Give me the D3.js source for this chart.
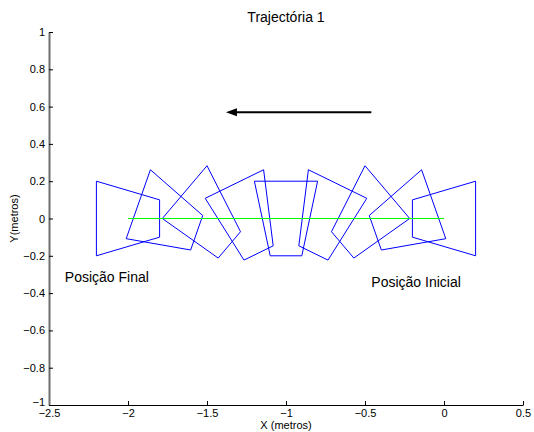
<!DOCTYPE html>
<html lang="en">
<head>
<meta charset="UTF-8">
<title>Trajectória 1</title>
<script src="https://d3js.org/d3.v7.min.js"></script>
<style>
  body { margin: 0; background: #fff; }
  svg { display: block; font-family: "Liberation Sans", Arial, sans-serif; }
  .axis text { font-size: 11px; fill: #000; }
  .axis .tick line { stroke: #000; }
</style>
</head>
<body>
<svg width="534" height="432"></svg>
<script>
// robot poses along the path (centre x, centre y, heading in degrees)
const poseX = [0, -0.25, -0.5, -0.75, -1, -1.25, -1.5, -1.75, -2];
const poseY = [0, 0, 0, 0, 0, 0, 0, 0, 0];
const poseAngle = [0, 22.5, 45, 67.5, 90, 112.5, 135, 157.5, 180];

// robot outline in its own frame (wide end forward)
const robotShape = [[0.2, 0.2], [-0.2, 0.1], [-0.2, -0.1], [0.2, -0.2]];

// reference path and arrow
const pathX = [-2, 0];
const pathY = [0, 0];
const arrowX = [-0.46, -1.38];
const arrowY = [0.57, 0.57];

const xTicks = [-2.5, -2, -1.5, -1, -0.5, 0, 0.5];
const yTicks = [-1, -0.8, -0.6, -0.4, -0.2, 0, 0.2, 0.4, 0.6, 0.8, 1];

const labels = [
  {text: "Posição Final", x: -2.4, y: -0.34},
  {text: "Posição Inicial", x: -0.46, y: -0.365}
];

const svg = d3.select("svg");
const x = d3.scaleLinear().domain([-2.5, 0.5]).range([49, 523]);
const y = d3.scaleLinear().domain([-1, 1]).range([405, 32]);

const fmt = d => d < 0 ? "\u2212" + String(-d) : String(d);

// axes (ticks pointing inward like matlab)
const xAxis = svg.append("g")
  .attr("class", "axis")
  .attr("transform", `translate(0,${y(-1)})`)
  .call(d3.axisBottom(x).tickValues(xTicks).tickFormat(fmt)
    .tickSizeInner(-4).tickSizeOuter(0).tickPadding(4));
xAxis.select(".domain").attr("stroke", "#000");

const yAxis = svg.append("g")
  .attr("class", "axis")
  .attr("transform", `translate(${x(-2.5)},0)`)
  .call(d3.axisLeft(y).tickValues(yTicks).tickFormat(fmt)
    .tickSizeInner(-4).tickSizeOuter(0).tickPadding(4));
yAxis.select(".domain").attr("stroke", "#6e6e6e").attr("stroke-width", 2);
// bottom label sits a little higher so it clears the x labels
yAxis.selectAll(".tick text").filter(d => d === -1).attr("dy", "0.05em");

// robots
const poses = poseX.map((px, i) => ({x: px, y: poseY[i], a: poseAngle[i] * Math.PI / 180}));
svg.append("g").selectAll("polygon")
  .data(poses)
  .join("polygon")
  .attr("points", p => robotShape.map(([u, v]) => {
    const wx = p.x + u * Math.cos(p.a) - v * Math.sin(p.a);
    const wy = p.y + u * Math.sin(p.a) + v * Math.cos(p.a);
    return [x(wx), y(wy)].join(",");
  }).join(" "))
  .attr("fill", "none")
  .attr("stroke", "#0000ff")
  .attr("stroke-width", 1);

// path
svg.append("line")
  .attr("x1", x(pathX[0])).attr("y1", y(pathY[0]))
  .attr("x2", x(pathX[1])).attr("y2", y(pathY[1]))
  .attr("stroke", "#00ff00")
  .attr("stroke-width", 1.2);

// arrow
const ax0 = x(arrowX[0]), ax1 = x(arrowX[1]), ay = y(arrowY[0]);
svg.append("line")
  .attr("x1", ax0).attr("y1", ay)
  .attr("x2", ax1 + 8).attr("y2", ay)
  .attr("stroke", "#000")
  .attr("stroke-width", 2);
svg.append("polygon")
  .attr("points", `${ax1},${ay} ${ax1 + 11},${ay - 4} ${ax1 + 11},${ay + 4}`)
  .attr("fill", "#000");

// text annotations
svg.append("g").selectAll("text")
  .data(labels)
  .join("text")
  .attr("x", d => x(d.x))
  .attr("y", d => y(d.y))
  .attr("font-size", 14)
  .text(d => d.text);

svg.append("text")
  .attr("x", x(-1)).attr("y", 22)
  .attr("text-anchor", "middle")
  .attr("font-size", 14)
  .text("Trajectória 1");

svg.append("text")
  .attr("x", x(-1)).attr("y", 429)
  .attr("text-anchor", "middle")
  .attr("font-size", 11)
  .text("X (metros)");

svg.append("text")
  .attr("transform", `translate(18,${y(0)}) rotate(-90)`)
  .attr("text-anchor", "middle")
  .attr("font-size", 11)
  .text("Y(metros)");
</script>
</body>
</html>
